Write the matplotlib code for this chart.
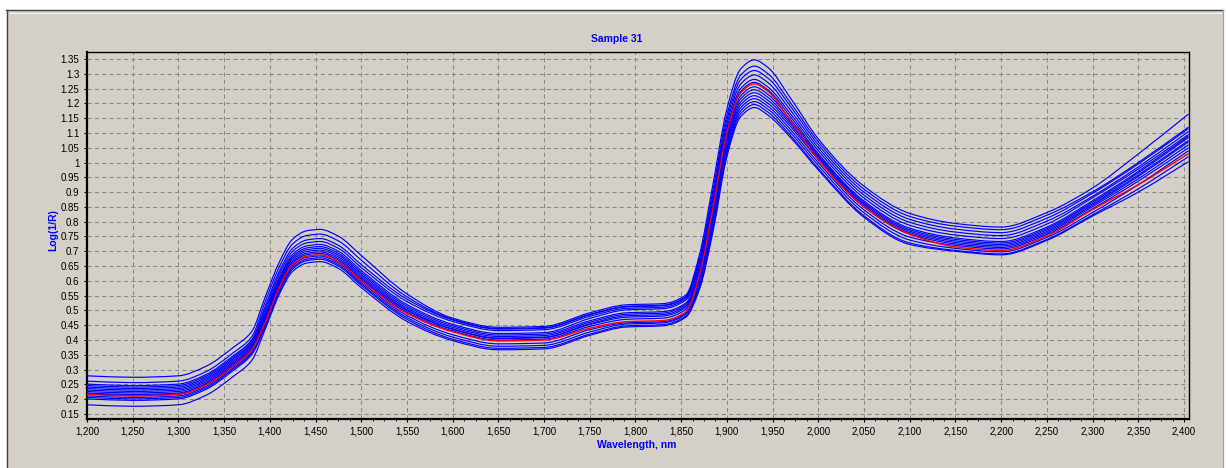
import matplotlib
matplotlib.use("Agg")
import matplotlib.pyplot as plt
from matplotlib.ticker import MultipleLocator, FuncFormatter
from matplotlib.lines import Line2D
from matplotlib.patches import Rectangle, PathPatch
from matplotlib.path import Path

plt.rcParams['font.family'] = ['Liberation Sans', 'DejaVu Sans']

wavelength = [1200, 1250, 1300, 1330, 1360, 1380, 1395, 1410, 1425, 1440, 1455, 1475,
              1500, 1550, 1600, 1650, 1700, 1750, 1790, 1830, 1855, 1870, 1885, 1900,
              1915, 1930, 1945, 1970, 2000, 2050, 2100, 2150, 2200, 2250, 2300, 2350, 2405]

# highlighted spectrum (red)
sample_31 = [0.216, 0.211, 0.216, 0.248, 0.312, 0.365, 0.460, 0.575, 0.655, 0.683, 0.688, 0.665,
             0.600, 0.490, 0.428, 0.397, 0.400, 0.440, 0.462, 0.466, 0.495, 0.620, 0.850, 1.100,
             1.235, 1.266, 1.240, 1.140, 1.010, 0.850, 0.758, 0.715, 0.703, 0.752, 0.841, 0.925, 1.030]

# the other spectra (blue)
spec_01 = [0.279, 0.274, 0.279, 0.311, 0.375, 0.428, 0.546, 0.661, 0.741, 0.769, 0.774, 0.751,
           0.686, 0.556, 0.474, 0.443, 0.446, 0.492, 0.519, 0.523, 0.552, 0.689, 0.931, 1.181,
           1.316, 1.347, 1.321, 1.216, 1.080, 0.920, 0.828, 0.794, 0.782, 0.831, 0.914, 1.029, 1.164]
spec_02 = [0.261, 0.256, 0.261, 0.293, 0.357, 0.410, 0.530, 0.645, 0.725, 0.753, 0.758, 0.735,
           0.670, 0.546, 0.470, 0.439, 0.442, 0.487, 0.514, 0.518, 0.547, 0.676, 0.910, 1.160,
           1.295, 1.326, 1.300, 1.200, 1.070, 0.910, 0.818, 0.785, 0.773, 0.822, 0.901, 1.000, 1.120]
spec_03 = [0.251, 0.246, 0.251, 0.283, 0.347, 0.400, 0.515, 0.630, 0.710, 0.738, 0.743, 0.720,
           0.655, 0.538, 0.468, 0.437, 0.440, 0.485, 0.512, 0.516, 0.545, 0.668, 0.895, 1.145,
           1.280, 1.311, 1.285, 1.188, 1.060, 0.900, 0.808, 0.775, 0.763, 0.812, 0.896, 0.995, 1.115]
spec_04 = [0.246, 0.241, 0.246, 0.278, 0.342, 0.395, 0.505, 0.620, 0.700, 0.728, 0.733, 0.710,
           0.645, 0.530, 0.463, 0.432, 0.435, 0.480, 0.507, 0.511, 0.540, 0.658, 0.880, 1.130,
           1.265, 1.296, 1.270, 1.175, 1.050, 0.890, 0.798, 0.765, 0.753, 0.802, 0.886, 0.985, 1.105]
spec_05 = [0.241, 0.236, 0.241, 0.273, 0.337, 0.390, 0.495, 0.610, 0.690, 0.718, 0.723, 0.700,
           0.635, 0.520, 0.453, 0.422, 0.425, 0.473, 0.502, 0.506, 0.535, 0.648, 0.865, 1.115,
           1.250, 1.281, 1.255, 1.163, 1.040, 0.880, 0.788, 0.755, 0.743, 0.792, 0.881, 0.978, 1.095]
spec_06 = [0.236, 0.231, 0.236, 0.268, 0.332, 0.385, 0.488, 0.603, 0.683, 0.711, 0.716, 0.693,
           0.628, 0.514, 0.448, 0.417, 0.420, 0.465, 0.492, 0.496, 0.525, 0.638, 0.855, 1.105,
           1.240, 1.271, 1.245, 1.153, 1.030, 0.870, 0.778, 0.745, 0.733, 0.782, 0.871, 0.970, 1.090]
spec_07 = [0.231, 0.226, 0.231, 0.263, 0.327, 0.380, 0.482, 0.597, 0.677, 0.705, 0.710, 0.687,
           0.622, 0.508, 0.443, 0.412, 0.415, 0.460, 0.487, 0.491, 0.520, 0.628, 0.840, 1.090,
           1.225, 1.256, 1.230, 1.143, 1.025, 0.865, 0.773, 0.740, 0.728, 0.777, 0.866, 0.965, 1.085]
spec_08 = [0.226, 0.221, 0.226, 0.258, 0.322, 0.375, 0.476, 0.591, 0.671, 0.699, 0.704, 0.681,
           0.616, 0.503, 0.438, 0.407, 0.410, 0.455, 0.482, 0.486, 0.515, 0.620, 0.830, 1.080,
           1.215, 1.246, 1.220, 1.135, 1.020, 0.860, 0.768, 0.735, 0.723, 0.772, 0.861, 0.958, 1.075]
spec_09 = [0.221, 0.216, 0.221, 0.253, 0.317, 0.370, 0.470, 0.585, 0.665, 0.693, 0.698, 0.675,
           0.610, 0.499, 0.436, 0.405, 0.408, 0.452, 0.477, 0.481, 0.510, 0.612, 0.820, 1.070,
           1.205, 1.236, 1.210, 1.128, 1.015, 0.855, 0.763, 0.730, 0.718, 0.767, 0.856, 0.953, 1.070]
spec_10 = [0.218, 0.213, 0.218, 0.250, 0.314, 0.367, 0.465, 0.580, 0.660, 0.688, 0.693, 0.670,
           0.605, 0.494, 0.431, 0.400, 0.403, 0.446, 0.470, 0.474, 0.503, 0.604, 0.810, 1.060,
           1.195, 1.226, 1.200, 1.120, 1.010, 0.850, 0.758, 0.725, 0.713, 0.762, 0.851, 0.945, 1.060]
spec_11 = [0.211, 0.206, 0.211, 0.243, 0.307, 0.360, 0.456, 0.571, 0.651, 0.679, 0.684, 0.661,
           0.596, 0.483, 0.418, 0.387, 0.390, 0.435, 0.458, 0.462, 0.491, 0.593, 0.800, 1.050,
           1.185, 1.216, 1.190, 1.110, 1.000, 0.840, 0.748, 0.720, 0.708, 0.757, 0.844, 0.937, 1.050]
spec_12 = [0.206, 0.201, 0.206, 0.238, 0.302, 0.355, 0.450, 0.565, 0.645, 0.673, 0.678, 0.655,
           0.590, 0.476, 0.410, 0.379, 0.382, 0.427, 0.454, 0.458, 0.487, 0.586, 0.790, 1.040,
           1.175, 1.206, 1.180, 1.100, 0.990, 0.830, 0.738, 0.710, 0.698, 0.747, 0.831, 0.925, 1.040]
spec_13 = [0.201, 0.196, 0.201, 0.233, 0.297, 0.350, 0.445, 0.560, 0.640, 0.668, 0.673, 0.650,
           0.585, 0.470, 0.403, 0.372, 0.375, 0.420, 0.448, 0.452, 0.481, 0.578, 0.780, 1.030,
           1.165, 1.196, 1.170, 1.090, 0.980, 0.820, 0.728, 0.703, 0.691, 0.740, 0.823, 0.911, 1.020]
spec_14 = [0.181, 0.176, 0.181, 0.213, 0.277, 0.330, 0.437, 0.552, 0.632, 0.660, 0.665, 0.642,
           0.577, 0.463, 0.398, 0.367, 0.370, 0.416, 0.444, 0.448, 0.477, 0.571, 0.770, 1.020,
           1.155, 1.186, 1.160, 1.083, 0.975, 0.815, 0.723, 0.700, 0.688, 0.737, 0.819, 0.900, 1.003]

others = [spec_01, spec_02, spec_03, spec_04, spec_05, spec_06, spec_07,
          spec_08, spec_09, spec_10, spec_11, spec_12, spec_13, spec_14]


def smooth_path(x, y):
    # monotone cubic (pchip-style) bezier path through the read points
    n = len(x)
    h = [x[i + 1] - x[i] for i in range(n - 1)]
    d = [(y[i + 1] - y[i]) / h[i] for i in range(n - 1)]
    m = [d[0]] + [0.0] * (n - 2) + [d[-1]]
    for i in range(1, n - 1):
        if d[i - 1] * d[i] > 0:
            w1 = 2 * h[i] + h[i - 1]
            w2 = h[i] + 2 * h[i - 1]
            m[i] = (w1 + w2) / (w1 / d[i - 1] + w2 / d[i])
    verts = [(x[0], y[0])]
    codes = [Path.MOVETO]
    for i in range(n - 1):
        verts += [(x[i] + h[i] / 3, y[i] + m[i] * h[i] / 3),
                  (x[i + 1] - h[i] / 3, y[i + 1] - m[i + 1] * h[i] / 3),
                  (x[i + 1], y[i + 1])]
        codes += [Path.CURVE4] * 3
    return Path(verts, codes)


W, H = 1226, 468
bg = '#d4d0c8'
fig = plt.figure(figsize=(W / 100, H / 100), dpi=100, facecolor=bg)

# window frame bits
fig.add_artist(Rectangle((0, 1 - 9 / H), 1, 9 / H, transform=fig.transFigure, color='white', zorder=0))
fig.add_artist(Rectangle((0, 0), 6 / W, 1, transform=fig.transFigure, color='white', zorder=0))
fig.add_artist(Rectangle((1223 / W, 0), 3 / W, 1, transform=fig.transFigure, color='white', zorder=0))
fig.add_artist(Line2D([6 / W, 1223 / W], [1 - 9.5 / H, 1 - 9.5 / H], transform=fig.transFigure, color='#404040', lw=1))
fig.add_artist(Line2D([6.5 / W, 6.5 / W], [0, 1 - 9.5 / H], transform=fig.transFigure, color='#404040', lw=1))
fig.add_artist(Line2D([10 / W, 1222 / W], [1 - 13 / H, 1 - 13 / H], transform=fig.transFigure, color='#f2f1ed', lw=1))
fig.add_artist(Line2D([1223 / W, 1223 / W], [0, 1 - 9.5 / H], transform=fig.transFigure, color='#a0a0a0', lw=1))

ax = fig.add_axes([87 / W, 1 - 419 / H, (1189 - 87) / W, (419 - 52) / H])
ax.set_facecolor(bg)

for s in others:
    ax.add_patch(PathPatch(smooth_path(wavelength, s), fill=False, edgecolor='#0000ff', lw=0.85, zorder=3))
ax.add_patch(PathPatch(smooth_path(wavelength, sample_31), fill=False, edgecolor='#ff0000', lw=1.0, zorder=5))

ax.set_xlim(1200, 2405.5)
ax.set_ylim(0.133, 1.3737)

ax.xaxis.set_major_locator(MultipleLocator(50))
ax.xaxis.set_minor_locator(MultipleLocator(12.5))
ax.yaxis.set_major_locator(MultipleLocator(0.05))
ax.xaxis.set_major_formatter(FuncFormatter(lambda v, p: f"{int(round(v)):,}"))
ax.yaxis.set_major_formatter(FuncFormatter(lambda v, p: f"{round(v, 2):g}"))
ax.tick_params(axis='both', which='major', length=2.5, width=0.8, labelsize=7, colors='black', pad=3)
ax.tick_params(axis='x', which='minor', length=1.5, width=0.6)

ax.grid(True, which='major', color='#8a8a8a', lw=0.75, linestyle=(0, (4, 3)))
ax.set_axisbelow(True)

for side in ['left', 'bottom']:
    ax.spines[side].set_linewidth(1.6)
for side in ['top', 'right']:
    ax.spines[side].set_linewidth(1.0)

fig.text(617 / W, 1 - 39 / H, 'Sample 31', color='#0000ff', fontsize=7.5, fontweight='bold',
         ha='center', va='center')
fig.text(637 / W, 1 - 445 / H, 'Wavelength, nm', color='#0000ff', fontsize=7.5, fontweight='bold',
         ha='center', va='center')
fig.text(53 / W, 1 - 230 / H, 'Log(1/R)', color='#0000ff', fontsize=7.5, fontweight='bold',
         ha='center', va='center', rotation=90)

fig.savefig('out.png', dpi=100, facecolor=bg)
